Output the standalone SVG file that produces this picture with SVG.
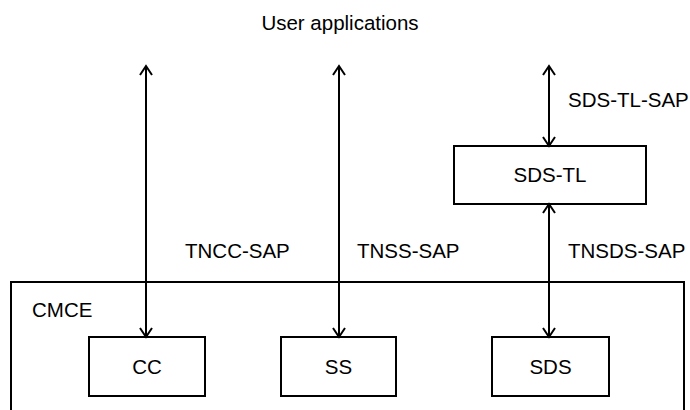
<svg xmlns="http://www.w3.org/2000/svg" width="690" height="410" viewBox="0 0 690 410">
<style>
  .box { fill: #fff; stroke: #000; stroke-width: 2; }
  .lbl { font-family: "Liberation Sans", Arial, sans-serif; font-size: 20.5px; fill: #000; }
  .mid { text-anchor: middle; }
  .conn { stroke: #000; stroke-width: 2; fill: none; marker-start: url(#arr); marker-end: url(#arr); }
</style>
<defs>
  <marker id="arr" markerUnits="userSpaceOnUse" viewBox="-12 -8 14 16" refX="0" refY="0" markerWidth="14" markerHeight="16" orient="auto-start-reverse">
    <path d="M-9,-6 L0,0 L-9,6" fill="none" stroke="#000" stroke-width="2"/>
  </marker>
</defs>
<rect width="690" height="410" fill="#fff"/>
<text class="lbl mid" x="340" y="30">User applications</text>
<g id="cmce">
  <path d="M11,414 V282 H684 V414" fill="none" stroke="#000" stroke-width="2"/>
  <text class="lbl" x="32" y="317">CMCE</text>
</g>
<g id="cc">
  <rect class="box" x="89" y="337" width="116" height="59"/>
  <text class="lbl mid" x="147" y="374">CC</text>
</g>
<g id="ss">
  <rect class="box" x="281" y="337" width="115" height="59"/>
  <text class="lbl mid" x="338.5" y="374">SS</text>
</g>
<g id="sds">
  <rect class="box" x="492" y="337" width="117" height="59"/>
  <text class="lbl mid" x="550.5" y="374">SDS</text>
</g>
<g id="sdstl">
  <rect class="box" x="454" y="146" width="192" height="58"/>
  <text class="lbl mid" x="550" y="182">SDS-TL</text>
</g>
<g id="connectors">
  <line class="conn" x1="146" y1="66" x2="146" y2="337"/>
  <line class="conn" x1="339" y1="66" x2="339" y2="337"/>
  <line class="conn" x1="549" y1="66" x2="549" y2="146"/>
  <line class="conn" x1="549" y1="204" x2="549" y2="337"/>
  <text class="lbl" x="185" y="258">TNCC-SAP</text>
  <text class="lbl" x="357" y="258">TNSS-SAP</text>
  <text class="lbl" x="568" y="258">TNSDS-SAP</text>
  <text class="lbl" x="568" y="107">SDS-TL-SAP</text>
</g>
</svg>
